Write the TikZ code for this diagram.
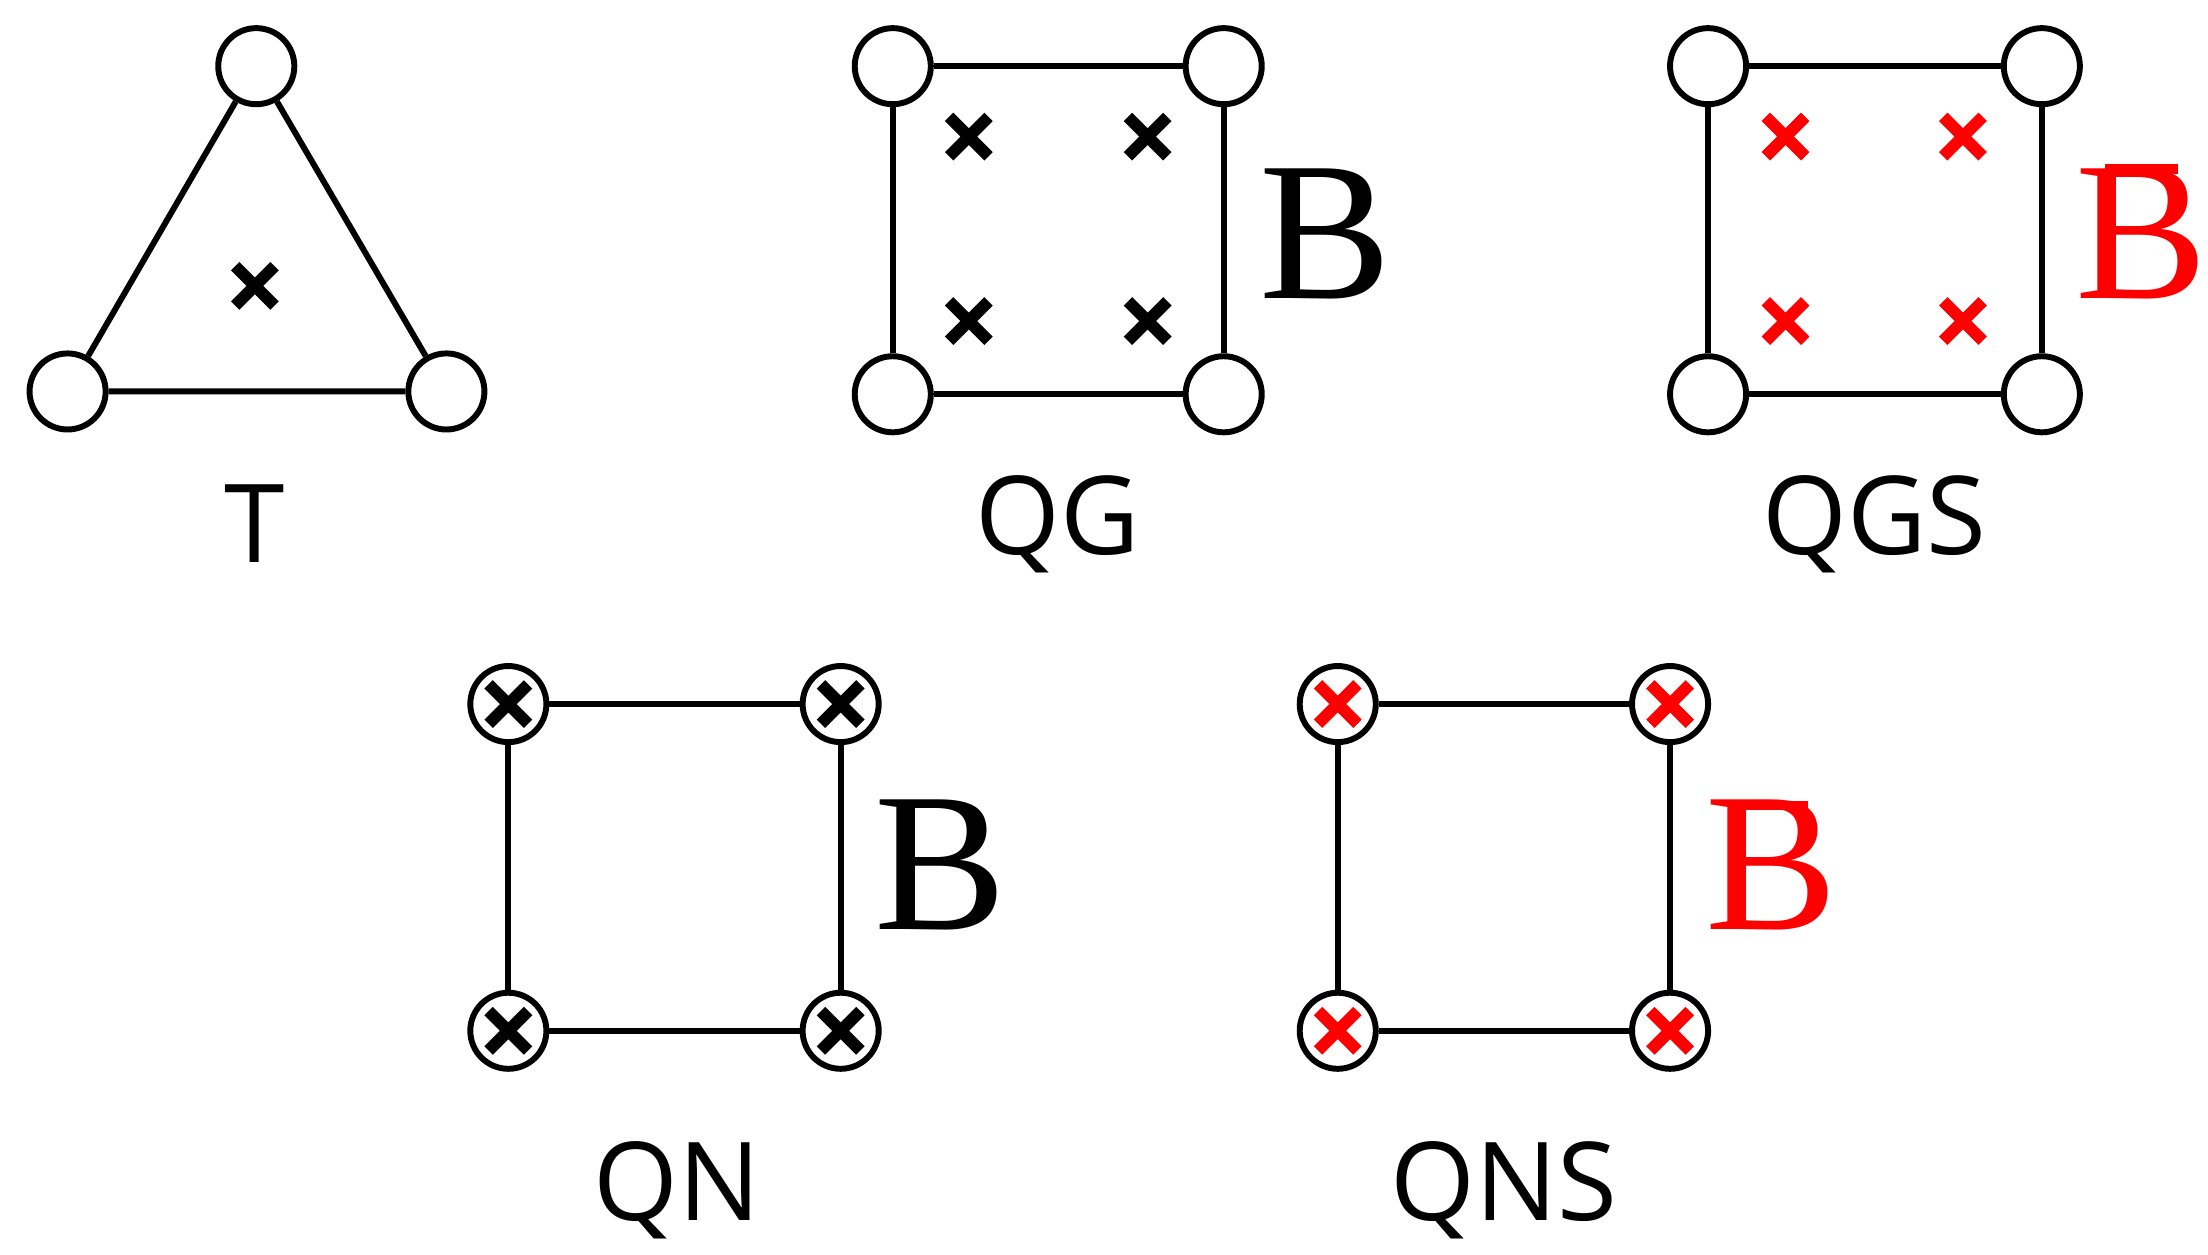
\documentclass[tikz,border=0pt]{standalone}
\usepackage{fontspec}
\setmainfont{Open Sans}
\newfontfamily\serifB{Liberation Serif}
\begin{document}
\begin{tikzpicture}[x=0.01cm,y=-0.01cm,
  v/.style={circle,draw,line width=1.2pt,minimum size=0.54cm,inner sep=0pt,fill=white},
  e/.style={line width=1.2pt},
  lbl/.style={font=\fontsize{22}{26}\selectfont},
  bb/.style={font=\serifB\fontsize{40}{44}\selectfont},
  xc/.style={line width=2.4pt},
  pics/cr/.style={code={\draw[xc,#1] (-14,-14)--(14,14) (-14,14)--(14,-14);}}]
\useasboundingbox (0,0) rectangle (1568,891);
% T
\node[v] (t1) at (182,47) {};
\node[v] (t2) at (48,278) {};
\node[v] (t3) at (317,278) {};
\draw[e] (t1)--(t2)--(t3)--(t1);
\pic at (181,203) {cr=black};
\node[lbl] (tl) at (181,372) {T};
% QG
\node[v] (g1) at (634,47) {};
\node[v] (g2) at (869,47) {};
\node[v] (g3) at (634,280) {};
\node[v] (g4) at (869,280) {};
\draw[e] (g1)--(g2)--(g4)--(g3)--(g1);
\foreach \p in {(688,97),(815,97),(688,228),(815,228)} \pic at \p {cr=black};
\node[bb] (gb) at (941,166) {B};
\node[lbl] (gl) at (751,372) {QG};
% QGS
\node[v] (s1) at (1213,47) {};
\node[v] (s2) at (1450,47) {};
\node[v] (s3) at (1213,280) {};
\node[v] (s4) at (1450,280) {};
\draw[e] (s1)--(s2)--(s4)--(s3)--(s1);
\foreach \p in {(1268,97),(1394,97),(1268,228),(1394,228)} \pic at \p {cr=red};
\node[bb,red] (sb) at (1521,166) {B};
\draw[red,line width=2pt] (1495,120)--(1547,120);
\node[lbl] (sl) at (1331,372) {QGS};
% QN
\node[v] (n1) at (361,500) {};
\node[v] (n2) at (597,500) {};
\node[v] (n3) at (361,732) {};
\node[v] (n4) at (597,732) {};
\draw[e] (n1)--(n2)--(n4)--(n3)--(n1);
\foreach \p in {(361,500),(597,500),(361,732),(597,732)} \pic at \p {cr=black};
\node[bb] (nb) at (668,614) {B};
\node[lbl] (nl) at (481,845) {QN};
% QNS
\node[v] (m1) at (950,500) {};
\node[v] (m2) at (1186,500) {};
\node[v] (m3) at (950,732) {};
\node[v] (m4) at (1186,732) {};
\draw[e] (m1)--(m2)--(m4)--(m3)--(m1);
\foreach \p in {(950,500),(1186,500),(950,732),(1186,732)} \pic at \p {cr=red};
\node[bb,red] (mb) at (1258,614) {B};
\draw[red,line width=2pt] (1232,572)--(1284,572);
\node[lbl] (ml) at (1068,845) {QNS};
\end{tikzpicture}
\end{document}
